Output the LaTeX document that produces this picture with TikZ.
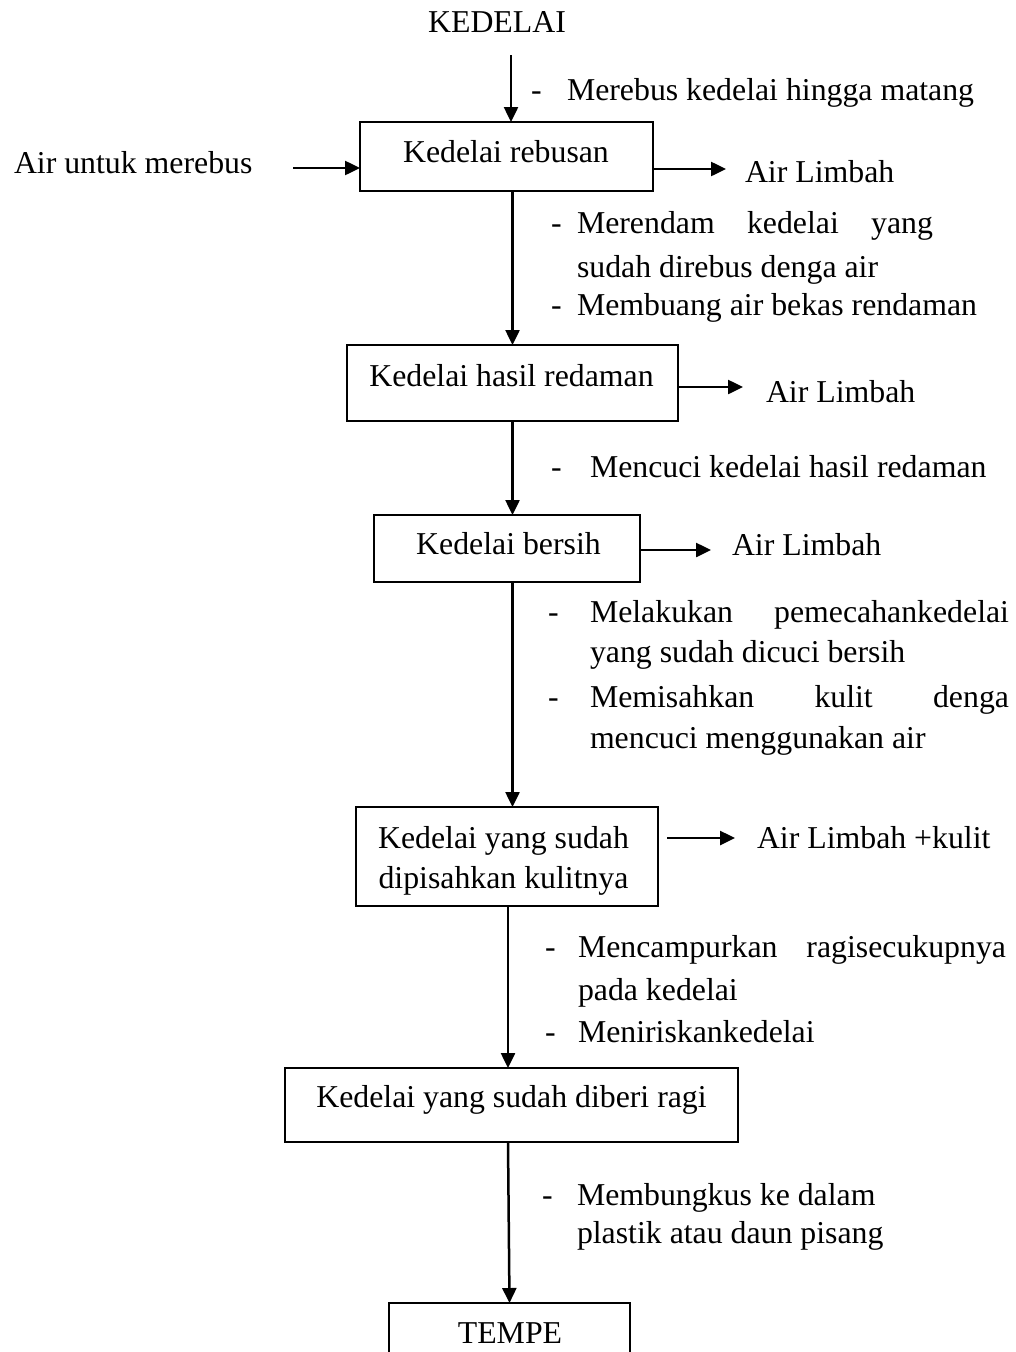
\documentclass[tikz,border=0pt]{standalone}
\usepackage{fontspec}
\setmainfont{Liberation Serif}
\usetikzlibrary{arrows.meta}
\begin{document}
\begin{tikzpicture}[x=1pt,y=-1pt,
  every node/.style={font=\fontsize{31.8}{38}\selectfont, inner sep=0pt, outer sep=0pt},
  box/.style={draw, line width=2pt, rectangle},
  txt/.style={anchor=base west},
  ctxt/.style={anchor=base},
  arr/.style={line width=2.5pt, -{Triangle[length=15pt,width=14pt]}}]
\useasboundingbox (0,0) rectangle (1015,1352);
\clip (0,0) rectangle (1015,1352);

% ---------- boxes ----------
\node[box, minimum width=293pt, minimum height=69pt] (b1) at (506.5,156.5) {};
\node[box, minimum width=331pt, minimum height=76pt] (b2) at (512.5,383) {};
\node[box, minimum width=266pt, minimum height=67pt] (b3) at (507,548.5) {};
\node[box, minimum width=302pt, minimum height=99pt] (b4) at (507,856.5) {};
\node[box, minimum width=453pt, minimum height=74pt] (b5) at (511.5,1105) {};
\node[box, minimum width=241pt, minimum height=80pt] (b6) at (509.5,1343) {};

% ---------- box texts ----------
\node[ctxt] (t1) at (506,162) {Kedelai rebusan};
\node[ctxt] (t2) at (511.5,386) {Kedelai hasil redaman};
\node[ctxt] (t3) at (508.5,554) {Kedelai bersih};
\node[ctxt] (t4a) at (503.5,848) {Kedelai yang sudah};
\node[ctxt] (t4b) at (503.5,888) {dipisahkan kulitnya};
\node[ctxt] (t5) at (511.5,1107) {Kedelai yang sudah diberi ragi};
\node[ctxt] (t6) at (510,1343) {TEMPE};

% ---------- other labels ----------
\node[ctxt] (kedelai) at (497,32) {KEDELAI};
\node[txt] (air) at (14,173) {Air untuk merebus};
\node[txt] (w1) at (745,182) {Air Limbah};
\node[txt] (w2) at (766,402) {Air Limbah};
\node[txt] (w3) at (732,555) {Air Limbah};
\node[txt] (w4) at (757,848) {Air Limbah +kulit};

% ---------- step notes ----------
\node[txt] (d1) at (531,100) {-};
\node[txt] (s1) at (567,100) {Merebus kedelai hingga matang};

\node[txt] (d2) at (551,233) {-};
\node[txt] (s2a) at (577,233) {\makebox[356pt][s]{Merendam kedelai yang}};
\node[txt] (s2b) at (577,277) {sudah direbus denga air};
\node[txt] (d3) at (551,315) {-};
\node[txt] (s3) at (577,315) {Membuang air bekas rendaman};

\node[txt] (d4) at (551,477) {-};
\node[txt] (s4) at (590,477) {Mencuci kedelai hasil redaman};

\node[txt] (d5) at (548,622) {-};
\node[txt] (s5a) at (590,622) {\makebox[419pt][s]{Melakukan pemecahankedelai}};
\node[txt] (s5b) at (590,662) {yang sudah dicuci bersih};
\node[txt] (d6) at (548,707) {-};
\node[txt] (s6a) at (590,707) {\makebox[419pt][s]{Memisahkan kulit denga}};
\node[txt] (s6b) at (590,748) {mencuci menggunakan air};

\node[txt] (d7) at (545,957) {-};
\node[txt] (s7a) at (578,957) {\makebox[428pt][s]{Mencampurkan ragisecukupnya}};
\node[txt] (s7b) at (578,1000) {pada kedelai};
\node[txt] (d8) at (545,1042) {-};
\node[txt] (s8) at (578,1042) {Meniriskankedelai};

\node[txt] (d9) at (542,1205) {-};
\node[txt] (s9a) at (577,1205) {Membungkus ke dalam};
\node[txt] (s9b) at (577,1243) {plastik atau daun pisang};

% ---------- connectors ----------
\coordinate (k0) at (511,55);
\coordinate (a0) at (293,168);
\coordinate (r1) at (726,169);
\coordinate (r2) at (743,387);
\coordinate (r3) at (711,550);
\coordinate (r4s) at (667,838);
\coordinate (r4) at (735,838);
\coordinate (c1) at (512.5,0);
\coordinate (c2) at (508,0);

\draw[arr] (k0) -- (k0 |- b1.north);
\draw[arr] (a0) -- (a0 -| b1.west);
\draw[arr] (r1 -| b1.east) -- (r1);
\draw[arr] (c1 |- b1.south) -- (c1 |- b2.north);
\draw[arr] (r2 -| b2.east) -- (r2);
\draw[arr] (c1 |- b2.south) -- (c1 |- b3.north);
\draw[arr] (r3 -| b3.east) -- (r3);
\draw[arr] (c1 |- b3.south) -- (c1 |- b4.north);
\draw[arr] (r4s) -- (r4);
\draw[arr] (c2 |- b4.south) -- (c2 |- b5.north);
\draw[arr] (c2 |- b5.south) -- (b6.north);
\end{tikzpicture}
\end{document}
